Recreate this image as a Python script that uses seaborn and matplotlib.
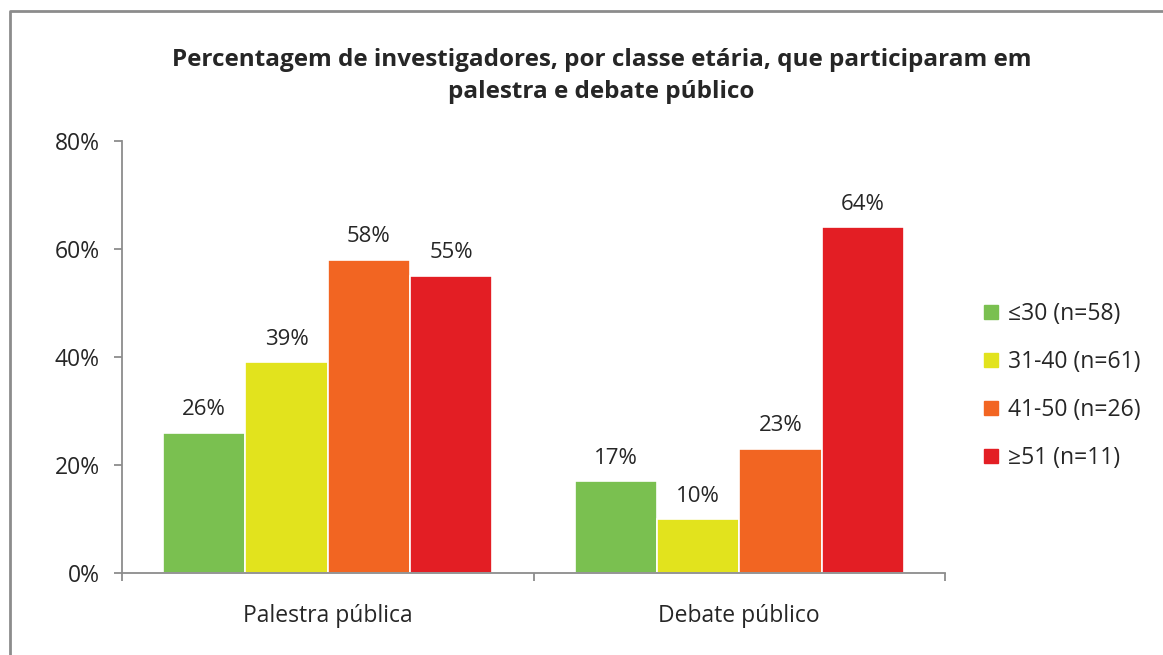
import pandas as pd
import seaborn as sns
import matplotlib
matplotlib.use('Agg')
import matplotlib.pyplot as plt
from matplotlib.lines import Line2D

# data
CATEGORIES = ["Palestra pública", "Debate público"]
AGE_GROUPS = ["≤30 (n=58)", "31-40 (n=61)", "41-50 (n=26)", "≥51 (n=11)"]
VALUES = {
    "≤30 (n=58)": [26, 17],
    "31-40 (n=61)": [39, 10],
    "41-50 (n=26)": [58, 23],
    "≥51 (n=11)": [55, 64],
}
COLORS = ["#7AC050", "#E2E31D", "#F26522", "#E31E24"]
TITLE = "Percentagem de investigadores, por classe etária, que participaram em\npalestra e debate público"
AXIS_GREY = "#8C8C8C"
TEXT_COL = "#262626"

rows = []
for grp in AGE_GROUPS:
    for cat, v in zip(CATEGORIES, VALUES[grp]):
        rows.append({"categoria": cat, "classe": grp, "valor": v})
df = pd.DataFrame(rows)

sns.set_theme(style="white")
plt.rcParams['font.family'] = ['Open Sans', 'DejaVu Sans']

fig = plt.figure(figsize=(11.63, 6.55), dpi=100)
ax = fig.add_axes([122 / 1163, 1 - 573 / 655, (945 - 122) / 1163, (573 - 141) / 655])

sns.barplot(data=df, x="categoria", y="valor", hue="classe", order=CATEGORIES,
            hue_order=AGE_GROUPS, palette=COLORS, width=0.8, gap=0,
            edgecolor="white", linewidth=1.2, saturation=1, legend=False, ax=ax)

ax.set_xlim(-0.5, 1.5)
ax.set_ylim(0, 80)
ax.set_yticks([0, 20, 40, 60, 80])
ax.set_yticklabels([f"{t}%" for t in [0, 20, 40, 60, 80]])
ax.set_xlabel("")
ax.set_ylabel("")

# value labels
for cont in ax.containers:
    ax.bar_label(cont, labels=[f"{v:.0f}%" for v in cont.datavalues],
                 padding=9, fontsize=16, color=TEXT_COL)

for side in ["top", "right"]:
    ax.spines[side].set_visible(False)
for side in ["left", "bottom"]:
    ax.spines[side].set_color(AXIS_GREY)
    ax.spines[side].set_linewidth(1.3)

ax.tick_params(axis="y", which="major", direction="out", length=6, width=1.3,
               color=AXIS_GREY, labelsize=16.5, labelcolor=TEXT_COL, pad=10, left=True)
ax.tick_params(axis="x", which="major", length=0, labelsize=16.5,
               labelcolor=TEXT_COL, pad=22)
# tick marks between categories
ax.set_xticks([-0.5, 0.5, 1.5], minor=True)
ax.tick_params(axis="x", which="minor", direction="out", length=6, width=1.3,
               color=AXIS_GREY, bottom=True)

# legend with square markers
handles = [Line2D([0], [0], marker="s", linestyle="", markersize=10,
                  markerfacecolor=c, markeredgecolor=c) for c in COLORS]
leg = fig.legend(handles, AGE_GROUPS, loc="center left",
                 bbox_to_anchor=(960 / 1163, 1 - 386 / 655), frameon=False,
                 fontsize=16.5, labelspacing=1.05, handletextpad=0.3,
                 handlelength=0.9)
for t in leg.get_texts():
    t.set_color(TEXT_COL)

fig.text(0.517, 1 - 76 / 655, TITLE, ha="center", va="center",
         fontsize=17.5, fontweight="bold", color=TEXT_COL, linespacing=1.45)

# chart frame (top and left edges visible)
fig.add_artist(Line2D([10 / 1163, 10 / 1163, 1.0], [0.0, 1 - 11 / 655, 1 - 11 / 655],
                      transform=fig.transFigure, color=AXIS_GREY, linewidth=2))

plt.savefig("out.png", dpi=100)
plt.close()
